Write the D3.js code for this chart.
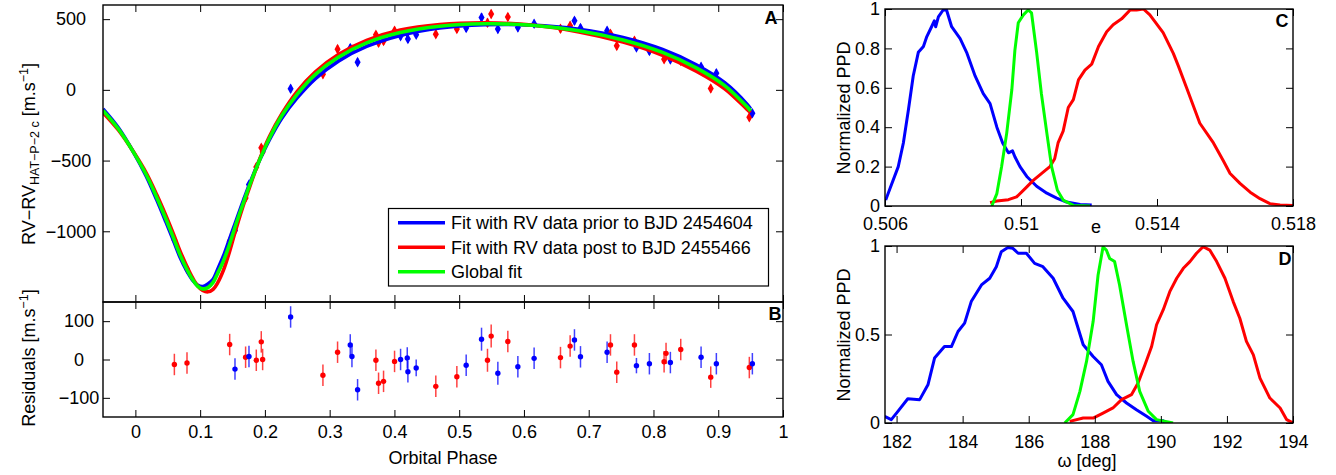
<!DOCTYPE html>
<html><head><meta charset="utf-8">
<script src="https://cdn.jsdelivr.net/npm/d3@7"></script>
<style>
body{margin:0;background:#fff;}
svg{display:block;font-family:"Liberation Sans",Arial,Helvetica,sans-serif;}
text{fill:#000;}
</style></head>
<body><svg id="c" width="1336" height="475"></svg>
<script>
// ---------- DATA ----------
// Fitted RV curves (phase, m/s)
const fitPhase = [-0.05,-0.026,-0.003,0.017,0.033,0.047,0.059,0.069,0.079,0.088,0.096,0.104,0.112,0.120,0.127,0.136,0.145,0.154,0.165,0.177,0.191,0.207,0.226,0.250,0.278,0.314,0.357,0.409,0.470,0.539,0.612,0.685,0.753,0.814,0.866,0.910,0.945,0.950];
const fitBlue  = [-135,-270,-440,-612,-778,-932,-1068,-1184,-1277,-1343,-1380,-1390,-1372,-1340,-1270,-1175,-1060,-945,-805,-658,-505,-352,-200,-55,80,205,307,385,437,460,458,428,370,285,177,50,-105,-135];
const fitRed   = [-160,-285,-438,-590,-742,-888,-1022,-1140,-1243,-1326,-1385,-1418,-1428,-1410,-1365,-1275,-1150,-1005,-840,-680,-500,-330,-170,-10,128,252,350,423,462,474,458,410,338,245,133,8,-140,-160];
const fitGreen = [-146,-278,-440,-602,-761,-911,-1048,-1167,-1265,-1339,-1387,-1407,-1398,-1361,-1298,-1209,-1098,-968,-822,-667,-505,-342,-183,-30,110,232,332,405,450,467,457,418,353,265,155,30,-122,-148];

// RV measurements and residuals
const ptPhase = [0.0602,0.0797,0.1456,0.1538,0.1702,0.1754,0.1867,0.1944,0.1965,0.2397,0.2896,0.3122,0.3318,0.3344,0.3431,0.3714,0.3755,0.3832,0.4002,0.4095,0.4198,0.4208,0.4336,0.4639,0.4964,0.5108,0.5345,0.5437,0.5494,0.5597,0.5751,0.5906,0.6157,0.6564,0.6713,0.678,0.6873,0.7284,0.7336,0.7433,0.7706,0.7737,0.7937,0.8164,0.8194,0.8261,0.8421,0.8735,0.8884,0.8971,0.948,0.9527];
const ptSet   = ["r","r","r","b","r","b","r","r","r","b","r","r","b","b","b","r","r","r","r","b","b","b","b","r","r","b","b","r","r","b","r","b","b","r","r","b","b","b","r","r","r","b","b","r","r","b","r","b","r","b","r","b"];
const ptRV    = [-1062,-1266,-1070,-995,-765,-670,-545,-410,-440,8,110,288,295,285,196,389,333,345,418,380,400,360,389,394,430,437,512,475,536,430,515,441,468,432,453,488,437,418,396,311,347,300,275,217,240,215,205,163,9,118,-193,-165];
const ptRes   = [-13,-9,39,-25,6,8,-2,46,0,111,-41,19,38,8,-79,-2,-62,-57,-5,0,4,-32,-22,-70,-45,-15,53,-2,61,-36,47,-19,3,5,35,51,7,19,38,-33,38,-16,-11,-6,16,-8,26,6,-46,-11,-21,-11];
const ptErr   = [28,28,28,28,28,28,28,28,28,28,28,28,28,28,28,28,28,28,28,28,28,28,22,28,28,28,30,30,30,30,28,28,28,28,28,28,28,28,28,28,28,20,28,28,28,28,28,28,28,28,28,28];

// Panel C: normalized PPD of e
const eBlueX = [0.50602,0.50615,0.50639,0.50654,0.50669,0.50683,0.50698,0.50713,0.50723,0.50737,0.50745,0.50749,0.50757,0.50771,0.50781,0.50796,0.50821,0.5084,0.50865,0.50889,0.50909,0.50929,0.50946,0.50963,0.50975,0.50982,0.50997,0.51017,0.51046,0.51076,0.51105,0.51134,0.51174,0.51208];
const eBlueY = [0.03,0.09,0.2,0.32,0.49,0.66,0.78,0.81,0.86,0.91,0.94,0.91,0.96,0.995,0.995,0.91,0.85,0.78,0.66,0.57,0.52,0.4,0.32,0.27,0.28,0.25,0.2,0.15,0.1,0.065,0.04,0.02,0.008,0.005];
const eGreenX = [0.50914,0.50929,0.50943,0.50958,0.50973,0.50982,0.50992,0.51007,0.51021,0.51031,0.51046,0.5106,0.51076,0.5109,0.51107,0.51124,0.51154,0.51203];
const eGreenY = [0,0.063,0.2,0.37,0.59,0.79,0.93,0.97,0.995,0.98,0.78,0.57,0.37,0.2,0.08,0.03,0.003,0];
const eRedX = [0.50909,0.50929,0.50963,0.50987,0.51012,0.51036,0.5106,0.51085,0.51099,0.51109,0.51124,0.51139,0.51154,0.51169,0.51188,0.51208,0.51228,0.51252,0.51271,0.51296,0.51321,0.5134,0.5136,0.51379,0.51418,0.51448,0.51463,0.51487,0.51526,0.51566,0.51595,0.51615,0.51644,0.51674,0.51703,0.51732,0.51762,0.518];
const eRedY = [0.017,0.025,0.032,0.046,0.088,0.13,0.164,0.2,0.24,0.32,0.38,0.5,0.54,0.64,0.69,0.72,0.81,0.885,0.92,0.95,0.995,0.995,1,0.97,0.88,0.775,0.71,0.6,0.42,0.32,0.23,0.165,0.115,0.07,0.037,0.012,0.005,0.002];

// Panel D: normalized PPD of omega
const wBlueX = [181.64,181.84,182.04,182.34,182.7,182.95,183.15,183.45,183.66,183.86,184.06,184.26,184.57,184.82,185.02,185.17,185.37,185.52,185.68,185.93,186.18,186.43,186.74,187.04,187.34,187.65,187.95,188.2,188.4,188.66,188.96,189.26,189.57,189.77,190.07,190.1];
const wBlueY = [0.038,0.019,0.066,0.137,0.132,0.216,0.367,0.432,0.432,0.517,0.564,0.686,0.78,0.818,0.883,0.968,0.992,0.987,0.959,0.959,0.902,0.883,0.818,0.705,0.63,0.442,0.376,0.329,0.235,0.16,0.113,0.075,0.038,0.013,0.013,0];
const wGreenX = [187.09,187.34,187.55,187.75,187.95,188.1,188.25,188.35,188.45,188.6,188.75,188.96,189.16,189.36,189.62,189.87,190.37];
const wGreenY = [0,0.047,0.179,0.348,0.573,0.836,0.995,0.977,0.93,0.912,0.78,0.555,0.348,0.179,0.066,0.019,0];
const wRedX = [187.24,187.65,187.95,188.25,188.55,188.81,189.11,189.31,189.52,189.72,189.87,190.07,190.27,190.48,190.68,190.88,191.08,191.28,191.48,191.69,191.94,192.19,192.39,192.59,192.8,193.0,193.3,193.61,193.81,194.0];
const wRedY = [0.009,0.028,0.028,0.056,0.085,0.132,0.16,0.226,0.329,0.432,0.555,0.639,0.742,0.818,0.874,0.912,0.959,0.996,0.977,0.912,0.818,0.686,0.592,0.461,0.385,0.254,0.141,0.085,0.019,0];

// Ticks & labels
const phaseTicks = [0,0.1,0.2,0.3,0.4,0.5,0.6,0.7,0.8,0.9,1];
const rvTicks = [-1000,-500,0,500];
const resTicks = [-100,0,100];
const eTicks = [0.506,0.51,0.514,0.518];
const ppdTicksC = [0,0.2,0.4,0.6,0.8,1];
const wTicks = [182,184,186,188,190,192,194];
const ppdTicksD = [0,0.5,1];
const legendLabels = ["Fit with RV data prior to BJD 2454604","Fit with RV data post to BJD 2455466","Global fit"];
const colors = {b:"#0000ff", r:"#ff0000", g:"#00ff00"};

// ---------- DRAW ----------
const svg = d3.select("#c");
const FS = 18;
const TL = 7;

const xA = d3.scaleLinear().domain([-0.05,1]).range([103,783]);
const yA = d3.scaleLinear().domain([-1500,600]).range([302,5]);
const yB = d3.scaleLinear().domain([-150,150]).range([417,302]);
const xC = d3.scaleLinear().domain([0.506,0.518]).range([885,1293]);
const yC = d3.scaleLinear().domain([0,1]).range([206,9]);
const xD = d3.scaleLinear().domain([181.65,194]).range([885,1293]);
const yD = d3.scaleLinear().domain([0,1]).range([423,246]);

const fmt = d3.format("~g");

function frame(x, y, xt, yt, opts){
  const [x0,x1] = x.range(), [y0,y1] = [y.range()[1], y.range()[0]];
  const g = svg.append("g");
  g.append("g").attr("transform",`translate(0,${y1})`)
    .call(d3.axisBottom(x).tickValues(xt).tickSize(-TL).tickPadding(opts.xpad||8).tickFormat(opts.xlab?fmt:""));
  g.append("g").attr("transform",`translate(0,${y0})`)
    .call(d3.axisTop(x).tickValues(xt).tickSize(-TL).tickFormat(""));
  const gl = g.append("g").attr("transform",`translate(${x0},0)`)
    .call(d3.axisLeft(y).tickValues(yt).tickSize(-TL).tickPadding(5).tickFormat(opts.yfmt||fmt));
  g.append("g").attr("transform",`translate(${x1},0)`)
    .call(d3.axisRight(y).tickValues(yt).tickSize(-TL).tickFormat(""));
  g.selectAll(".domain").remove();
  g.selectAll(".tick line").attr("stroke","#000").attr("stroke-width",1);
  g.selectAll("text").attr("font-size",FS).attr("font-family","'Liberation Sans',Arial,sans-serif").attr("fill","#000");
  if(opts.ycenter!==undefined){
    gl.selectAll("text").attr("text-anchor","middle").attr("x",opts.ycenter - x0);
  }
  g.append("rect").attr("x",x0).attr("y",y0).attr("width",x1-x0).attr("height",y1-y0)
    .attr("fill","none").attr("stroke","#000").attr("stroke-width",1.4);
  return g;
}

// clip paths
const defs = svg.append("defs");
defs.append("clipPath").attr("id","clipA").append("rect").attr("x",103).attr("y",5).attr("width",680).attr("height",297);
defs.append("clipPath").attr("id","clipB").append("rect").attr("x",103).attr("y",302).attr("width",680).attr("height",115);
defs.append("clipPath").attr("id","clipC").append("rect").attr("x",885).attr("y",9).attr("width",408).attr("height",197);
defs.append("clipPath").attr("id","clipD").append("rect").attr("x",885).attr("y",246).attr("width",408).attr("height",177);

// ----- Panel A -----
const gA = svg.append("g").attr("clip-path","url(#clipA)");
const points = ptPhase.map((p,i)=>({p, s:ptSet[i], rv:ptRV[i], res:ptRes[i], err:ptErr[i]}));
points.forEach(d=>{
  gA.append("line").attr("x1",xA(d.p)).attr("x2",xA(d.p)).attr("y1",yA(d.rv-d.err)).attr("y2",yA(d.rv+d.err))
    .attr("stroke",colors[d.s]).attr("stroke-width",1.5);
  gA.append("path").attr("d",d3.symbol(d3.symbolDiamond,32)())
    .attr("transform",`translate(${xA(d.p)},${yA(d.rv)})`).attr("fill",colors[d.s]);
});
const lineA = d3.line().x((d,i)=>xA(fitPhase[i])).y(d=>yA(d)).curve(d3.curveCatmullRom.alpha(0.5));
[[fitBlue,colors.b],[fitRed,colors.r],[fitGreen,colors.g]].forEach(([arr,c])=>{
  gA.append("path").attr("d",lineA(arr)).attr("fill","none").attr("stroke",c).attr("stroke-width",3.6);
});
frame(xA, yA, phaseTicks, rvTicks, {xlab:false, ycenter:71, yfmt:d3.format("d")});

// legend
const lg = svg.append("g");
lg.append("rect").attr("x",388.5).attr("y",208.5).attr("width",380).attr("height",77.5).attr("fill","#fff").attr("stroke","#000").attr("stroke-width",1.2);
[colors.b,colors.r,colors.g].forEach((c,i)=>{
  const yy = 222.7 + i*24.5;
  lg.append("line").attr("x1",398).attr("x2",445).attr("y1",yy).attr("y2",yy).attr("stroke",c).attr("stroke-width",3.6);
  lg.append("text").attr("x",451).attr("y",yy).attr("dy","0.35em").attr("font-size",FS).text(legendLabels[i]);
});

// ----- Panel B -----
const gB = svg.append("g").attr("clip-path","url(#clipB)");
points.forEach(d=>{
  gB.append("line").attr("x1",xA(d.p)).attr("x2",xA(d.p)).attr("y1",yB(d.res-d.err)).attr("y2",yB(d.res+d.err))
    .attr("stroke",colors[d.s]).attr("stroke-width",1.5).attr("stroke-opacity",0.75);
  gB.append("circle").attr("cx",xA(d.p)).attr("cy",yB(d.res)).attr("r",2.7).attr("fill",colors[d.s]);
});
frame(xA, yB, phaseTicks, resTicks, {xlab:true, xpad:8, ycenter:79, yfmt:d3.format("d")});

// axis labels A/B
const yl = svg.append("text").attr("transform","translate(35,154) rotate(-90)").attr("text-anchor","middle").attr("font-size",FS);
yl.append("tspan").text("RV\u2212RV");
yl.append("tspan").attr("font-size",12.5).attr("dy",4).text("HAT\u2212P\u22122 c");
yl.append("tspan").attr("dy",-4).text(" [m.s");
yl.append("tspan").attr("font-size",12.5).attr("dy",-7).text("\u22121");
yl.append("tspan").attr("dy",7).text("]");

const rl = svg.append("text").attr("transform","translate(35,358) rotate(-90)").attr("text-anchor","middle").attr("font-size",FS);
rl.append("tspan").text("Residuals [m.s");
rl.append("tspan").attr("font-size",12.5).attr("dy",-7).text("\u22121");
rl.append("tspan").attr("dy",7).text("]");

svg.append("text").attr("x",443).attr("y",464).attr("text-anchor","middle").attr("font-size",FS).text("Orbital Phase");
svg.append("text").attr("x",771).attr("y",24).attr("text-anchor","middle").attr("font-size",FS).attr("font-weight","bold").text("A");
svg.append("text").attr("x",775).attr("y",320).attr("text-anchor","middle").attr("font-size",FS).attr("font-weight","bold").text("B");

// ----- Panel C -----
const gC = svg.append("g").attr("clip-path","url(#clipC)");
const lineC = d3.line().x(d=>xC(d[0])).y(d=>yC(d[1]));
[[eBlueX,eBlueY,colors.b],[eRedX,eRedY,colors.r],[eGreenX,eGreenY,colors.g]].forEach(([xs,ys,c])=>{
  gC.append("path").attr("d",lineC(xs.map((v,i)=>[v,ys[i]]))).attr("fill","none").attr("stroke",c).attr("stroke-width",3).attr("stroke-linejoin","round");
});
frame(xC, yC, eTicks, ppdTicksC, {xlab:true, xpad:11});
svg.append("text").attr("x",1096).attr("y",233).attr("text-anchor","middle").attr("font-size",FS).text("e");
svg.append("text").attr("transform","translate(850,108) rotate(-90)").attr("text-anchor","middle").attr("font-size",FS).text("Normalized PPD");
svg.append("text").attr("x",1282).attr("y",27).attr("text-anchor","middle").attr("font-size",FS).attr("font-weight","bold").text("C");

// ----- Panel D -----
const gD = svg.append("g").attr("clip-path","url(#clipD)");
const lineD = d3.line().x(d=>xD(d[0])).y(d=>yD(d[1]));
[[wBlueX,wBlueY,colors.b],[wRedX,wRedY,colors.r],[wGreenX,wGreenY,colors.g]].forEach(([xs,ys,c])=>{
  gD.append("path").attr("d",lineD(xs.map((v,i)=>[v,ys[i]]))).attr("fill","none").attr("stroke",c).attr("stroke-width",3).attr("stroke-linejoin","round");
});
frame(xD, yD, wTicks, ppdTicksD, {xlab:true, xpad:12});
svg.append("text").attr("x",1087).attr("y",467).attr("text-anchor","middle").attr("font-size",FS).text("\u03c9 [deg]");
svg.append("text").attr("transform","translate(850,335) rotate(-90)").attr("text-anchor","middle").attr("font-size",FS).text("Normalized PPD");
svg.append("text").attr("x",1285).attr("y",265).attr("text-anchor","middle").attr("font-size",FS).attr("font-weight","bold").text("D");
</script>
</body></html>
